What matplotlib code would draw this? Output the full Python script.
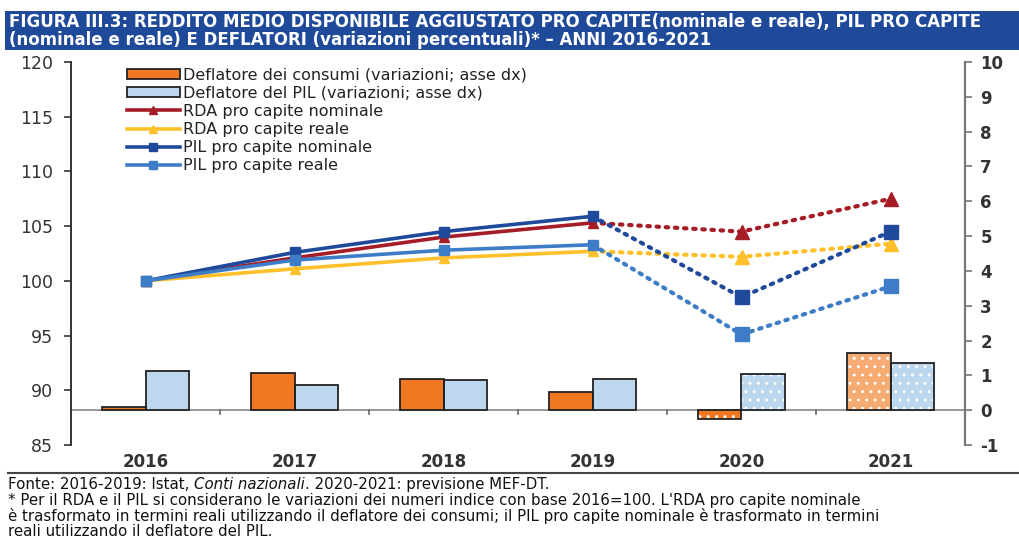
import matplotlib
matplotlib.use("Agg")
import matplotlib.pyplot as plt
import numpy as np
from matplotlib.patches import Rectangle
from matplotlib.lines import Line2D
from matplotlib.font_manager import FontProperties

years = ["2016", "2017", "2018", "2019", "2020", "2021"]
defl_consumi = [0.1, 1.07, 0.9, 0.53, -0.25, 1.65]
defl_pil = [1.12, 0.73, 0.88, 0.9, 1.03, 1.35]
rda_nom = [100.0, 102.1, 104.0, 105.3, 104.5, 107.5]
rda_real = [100.0, 101.1, 102.1, 102.7, 102.2, 103.4]
pil_nom = [100.0, 102.6, 104.5, 105.9, 98.5, 104.5]
pil_real = [100.0, 101.9, 102.8, 103.3, 95.1, 99.5]

title_lines = ["FIGURA III.3: REDDITO MEDIO DISPONIBILE AGGIUSTATO PRO CAPITE(nominale e reale), PIL PRO CAPITE",
               "(nominale e reale) E DEFLATORI (variazioni percentuali)* \u2013 ANNI 2016-2021"]
footer = [
    ("Fonte: 2016-2019: Istat, ", "Conti nazionali", ". 2020-2021: previsione MEF-DT."),
    "* Per il RDA e il PIL si considerano le variazioni dei numeri indice con base 2016=100. L'RDA pro capite nominale",
    "\u00e8 trasformato in termini reali utilizzando il deflatore dei consumi; il PIL pro capite nominale \u00e8 trasformato in termini",
    "reali utilizzando il deflatore del PIL.",
]

plt.rcParams["font.family"] = ["DejaVu Sans"]
fp_reg = FontProperties(family=["DejaVu Sans"])
fp_it = FontProperties(family=["DejaVu Sans"], style="italic")
fp_bold = FontProperties(family=["DejaVu Sans"], weight="bold")

C_OR = "#F07822"
C_OR_L = "#F6AB72"
C_LB = "#BDD7EE"
C_RED = "#A51C26"
C_YEL = "#FFC02A"
C_DB = "#1F4A9C"
C_MB = "#3D7CC6"
TXT = "#333333"

fig = plt.figure(figsize=(10.19, 5.40), dpi=100)
fig.patch.set_facecolor("white")
fig.canvas.draw()
r = fig.canvas.get_renderer()
W = fig.bbox.width


def fit_text(xpx, ypx, s, fp, size, target_right, maxsize=None, **kw):
    p = fp.copy()
    p.set_size(size)
    t = fig.text(xpx / 1019, 1 - ypx / 540, s, fontproperties=p, va="center", ha="left", **kw)
    bb = t.get_window_extent(r)
    if target_right is not None:
        ns = size * (target_right - xpx) / bb.width
        if maxsize is not None:
            ns = min(ns, maxsize)
        p2 = fp.copy()
        p2.set_size(ns)
        t.set_fontproperties(p2)
    return t


# title box
fig.patches.append(Rectangle((5 / 1019, 1 - 50 / 540), 1014 / 1019, 39 / 540,
                             transform=fig.transFigure, facecolor="#1F4A9A", edgecolor="none"))
t = fit_text(9, 21.5, title_lines[0], fp_bold, 11, 1012, maxsize=12, color="white")
fit_text(9, 40, title_lines[1], t.get_fontproperties(), t.get_fontproperties().get_size(), None,
         color="white")

ax = fig.add_axes([71 / 1019, 1 - 445 / 540, (965 - 71) / 1019, 383 / 540])
ax2 = ax.twinx()
ax.set_zorder(2)
ax2.set_zorder(1)
ax.patch.set_visible(False)

x = np.arange(len(years))
w = 0.29
for i in range(len(years)):
    fc_o = C_OR if i < 5 else C_OR_L
    hatch = ".." if i >= 4 else None
    for val, fc, off in ((defl_consumi[i], fc_o, -w / 2), (defl_pil[i], C_LB, w / 2)):
        ax2.bar(x[i] + off, val, w, color=fc, edgecolor="white" if hatch else "none",
                hatch=hatch, linewidth=0, zorder=2)
        ax2.bar(x[i] + off, val, w, color="none", edgecolor="#222222", linewidth=1.3, zorder=3)

ax2.axhline(0, color="#888888", lw=1.2, zorder=1)
for xb in x[:-1] + 0.5:
    ax2.plot([xb, xb], [0, -0.12], color="#666666", lw=1.2, zorder=1, clip_on=False)

ax2.set_ylim(-1, 10)
ax2.set_yticks(range(-1, 11))
ax2.set_xlim(-0.5, 5.5)

series = [(rda_nom, C_RED, "^", "RDA pro capite nominale"),
          (rda_real, C_YEL, "^", "RDA pro capite reale"),
          (pil_nom, C_DB, "s", "PIL pro capite nominale"),
          (pil_real, C_MB, "s", "PIL pro capite reale")]
for vals, c, m, lab in series:
    ax.plot(x[:4], vals[:4], color=c, lw=2.6, marker=m, ms=7, zorder=4)
    ax.plot(x[3:], vals[3:], color=c, lw=3, ls=(0, (0.6, 1.6)), dash_capstyle="round",
            marker=m, ms=10, markevery=[1, 2], zorder=4)

ax.set_ylim(85, 120)
ax.set_yticks(range(85, 121, 5))
ax.set_xlim(-0.5, 5.5)
ax.set_xticks(x)
ax.set_xticklabels(years, fontweight="bold", color=TXT, fontsize=12)
ax.tick_params(axis="x", length=0, pad=6)
ax.tick_params(axis="y", labelsize=12.5, colors=TXT, direction="out", length=5, width=1.2, pad=8)
ax2.tick_params(axis="y", labelsize=12, colors=TXT, direction="out", length=5, width=1.2, pad=6)
ax2.set_yticklabels(["-1"] + [str(v) for v in range(0, 11)], fontweight="bold")

for a in (ax, ax2):
    for s in ("top", "bottom"):
        a.spines[s].set_visible(False)
ax.spines["right"].set_visible(False)
ax2.spines["left"].set_visible(False)
ax.spines["left"].set_color("#333333")
ax.spines["left"].set_linewidth(1.4)
ax2.spines["right"].set_color("#777777")
ax2.spines["right"].set_linewidth(1.6)
ax.tick_params(axis="y", color="#333333")
ax2.tick_params(axis="y", color="#777777")

handles = [
    Rectangle((0, 0), 1, 1, facecolor=C_OR, edgecolor="#222222", lw=1.3),
    Rectangle((0, 0), 1, 1, facecolor=C_LB, edgecolor="#222222", lw=1.3),
] + [Line2D([], [], color=c, lw=2.6, marker=m, ms=6) for _, c, m, _ in series]
labels = ["Deflatore dei consumi (variazioni; asse dx)",
          "Deflatore del PIL (variazioni; asse dx)"] + [s[3] for s in series]
leg = ax.legend(handles, labels, loc="upper left", bbox_to_anchor=(0.052, 1.01), frameon=False,
                fontsize=11.5, handlelength=3.3, handleheight=0.6, handletextpad=0.2,
                labelspacing=0.19, borderaxespad=0.2)
for tt in leg.get_texts():
    tt.set_color("#222222")

# footer
fig.add_artist(Line2D([8 / 1019, 1.0], [1 - 473 / 540] * 2, transform=fig.transFigure,
                      color="#444444", lw=1.5))
y0 = 484.5
dy = 15.8
t_ref = fit_text(8, y0 + dy, footer[1], fp_reg, 10, 1013, maxsize=10.8, color="#111111")
fs = t_ref.get_fontproperties().get_size()
p_reg = fp_reg.copy(); p_reg.set_size(fs)
p_it = fp_it.copy(); p_it.set_size(fs)
t1 = fig.text(8 / 1019, 1 - y0 / 540, footer[0][0], fontproperties=p_reg, color="#111111", va="center")
bb = t1.get_window_extent(r)
t2 = fig.text(bb.x1 / W, 1 - y0 / 540, footer[0][1], fontproperties=p_it, color="#111111", va="center")
bb2 = t2.get_window_extent(r)
fig.text(bb2.x1 / W, 1 - y0 / 540, footer[0][2], fontproperties=p_reg, color="#111111", va="center")
for k, line in enumerate(footer[2:], start=2):
    fig.text(8 / 1019, 1 - (y0 + k * dy) / 540, line, fontproperties=p_reg, color="#111111", va="center")

fig.savefig("out.png", dpi=100, facecolor="white")
